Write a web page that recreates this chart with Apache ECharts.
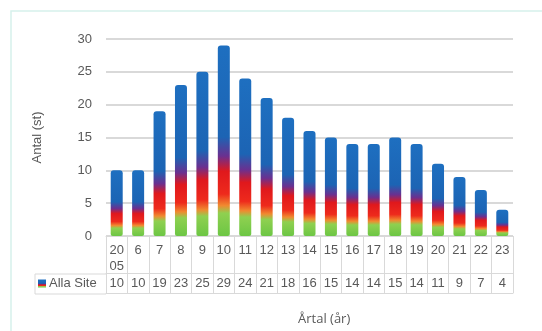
<!DOCTYPE html>
<html>
<head>
<meta charset="utf-8">
<script src="https://cdn.jsdelivr.net/npm/echarts@6/dist/echarts.min.js"></script>
<style>
  html, body { margin: 0; padding: 0; background: #fff; }
  #chart { width: 542px; height: 331px; }
</style>
</head>
<body>
<div id="chart"></div>
<script>
const categories = ['2005', '6', '7', '8', '9', '10', '11', '12', '13', '14', '15', '16', '17', '18', '19', '20', '21', '22', '23'];
const values = [10, 10, 19, 23, 25, 29, 24, 21, 18, 16, 15, 14, 14, 15, 14, 11, 9, 7, 4];
const yTicks = [0, 5, 10, 15, 20, 25, 30];
const seriesName = 'Alla Site';

const chart = echarts.init(document.getElementById('chart'));

const barColor = new echarts.graphic.LinearGradient(0, 0, 0, 1, [
  { offset: 0, color: '#1e6fc0' },
  { offset: 0.48, color: '#1c64b4' },
  { offset: 0.58, color: '#6a3090' },
  { offset: 0.66, color: '#e0181c' },
  { offset: 0.78, color: '#ee2a1c' },
  { offset: 0.84, color: '#f08a30' },
  { offset: 0.88, color: '#8fd050' },
  { offset: 1, color: '#6cc644' }
]);

const gridLine = '#d9d9d9';
const textColor = '#595959';

const option = {
  backgroundColor: '#fff',
  animation: false,
  textStyle: { fontFamily: 'Liberation Sans' },
  grid: { left: 106, right: 29, top: 39, bottom: 95 },
  legend: {
    left: 38, top: 277,
    padding: 0,
    itemWidth: 8, itemHeight: 8,
    icon: 'rect',
    textStyle: { color: textColor, fontSize: 13, fontFamily: 'Liberation Sans', padding: [0, 0, 0, -2] },
    data: [seriesName]
  },
  xAxis: [
    {
      type: 'category',
      data: categories,
      axisLine: { lineStyle: { color: gridLine, width: 1 } },
      axisTick: { show: true, length: 57, lineStyle: { color: gridLine } },
      axisLabel: {
        color: textColor, fontSize: 13, margin: 6, lineHeight: 16,
        interval: 0,
        formatter: v => v.length > 2 ? v.slice(0, 2) + '\n' + v.slice(2) : v
      }
    },
    {
      type: 'category',
      position: 'bottom',
      offset: 37,
      data: values.map(String),
      axisLine: { lineStyle: { color: gridLine, width: 1 } },
      axisTick: { show: false },
      axisLabel: { color: textColor, fontSize: 13, margin: 4, interval: 0 }
    },
    {
      type: 'category',
      position: 'bottom',
      offset: 57,
      data: categories,
      axisLine: { lineStyle: { color: gridLine, width: 1 } },
      axisTick: { show: false },
      axisLabel: { show: false }
    }
  ],
  yAxis: {
    type: 'value',
    min: yTicks[0],
    max: yTicks[yTicks.length - 1],
    interval: 5,
    name: 'Antal (st)',
    nameLocation: 'middle',
    nameGap: 62,
    nameTextStyle: { color: textColor, fontSize: 13, fontFamily: 'Liberation Sans' },
    axisLine: { show: false },
    axisTick: { show: false },
    axisLabel: { color: textColor, fontSize: 13, margin: 14 },
    splitLine: { lineStyle: { color: gridLine, width: 2 } }
  },
  series: [
    {
      name: seriesName,
      type: 'bar',
      xAxisIndex: 0,
      data: values,
      barWidth: 12,
      itemStyle: { color: barColor, borderRadius: [3, 3, 2, 2] }
    }
  ],
  graphic: [
    {
      type: 'rect',
      shape: { x: 11, y: 11, width: 620, height: 420 },
      style: { fill: 'none', stroke: '#d6f1ec', lineWidth: 1.5 },
      silent: true
    },
    {
      type: 'polyline',
      shape: { points: [[106, 274], [35, 274], [35, 294], [106, 294]] },
      style: { fill: 'none', stroke: gridLine, lineWidth: 1 },
      silent: true
    },
    {
      type: 'text',
      left: 298, top: 313,
      style: { text: 'Årtal (år)', fill: textColor, fontSize: 13, fontFamily: 'Open Sans' },
      silent: true
    }
  ]
};

chart.setOption(option);
</script>
</body>
</html>
